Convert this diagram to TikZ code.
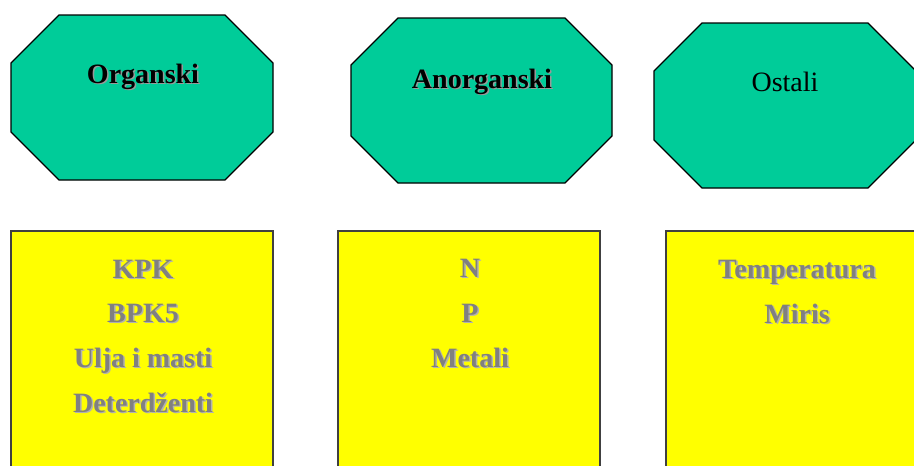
\documentclass[tikz,border=0pt]{standalone}
\usepackage{fontspec}
\setmainfont{Liberation Serif}
\definecolor{octgreen}{HTML}{00CC99}
\definecolor{boxyellow}{HTML}{FFFF00}
\definecolor{itemgray}{HTML}{808080}

\begin{document}
\begin{tikzpicture}[x=0.75pt, y=-0.75pt,
		title/.style={anchor=base, font=\fontsize{21}{21}\selectfont\bfseries},
		item/.style={anchor=base, font=\fontsize{21}{21}\selectfont\bfseries, text=itemgray},
		shade/.style={anchor=base, font=\fontsize{21}{21}\selectfont\bfseries, xshift=1.1pt, yshift=-1.1pt}]
		\useasboundingbox (0,0) rectangle (914,465);
		\clip (0,0) rectangle (914,465);
		% green octagons
		\foreach \l/\t/\r/\b/\c in {11/15/273/180/48, 351/18/612/183/47, 654/23/916/188/48}
		{
			\draw[fill=octgreen, line width=0.9pt] (\l+\c,\t) -- (\r-\c,\t) -- (\r,\t+\c) -- (\r,\b-\c)
				-- (\r-\c,\b) -- (\l+\c,\b) -- (\l,\b-\c) -- (\l,\t+\c) -- cycle;
		}
		% yellow boxes
		\foreach \l/\r in {11/273, 338/600, 666/930}
		{
			\draw[fill=boxyellow, draw=black!75, line width=0.9pt] (\l,231) rectangle (\r,480);
		}
		% titles of the octagons
		\foreach \n/\x/\y/\t in {org/143/83/Organski, anorg/482/88/Anorganski}
		{
			\node[shade, text=black!40] at (\x,\y) {\t};
			\node[title] (\n) at (\x,\y) {\t};
		}
		\node[anchor=base, font=\fontsize{21}{21}\selectfont] (ost) at (785,91) {Ostali};
		% items in the boxes
		\foreach \n/\x/\y/\t in {kpk/143/278/KPK, bpk/143/322/BPK5, ulja/143/367/Ulja i masti,
			det/143/412/Deterdženti, n/470/277/N, p/470/322/P, met/470/367/Metali,
			temp/797/278/Temperatura, miris/797/323/Miris}
		{
			\node[shade, text=black!30] at (\x,\y) {\t};
			\node[item] (\n) at (\x,\y) {\t};
		}
	\end{tikzpicture}
\end{document}
